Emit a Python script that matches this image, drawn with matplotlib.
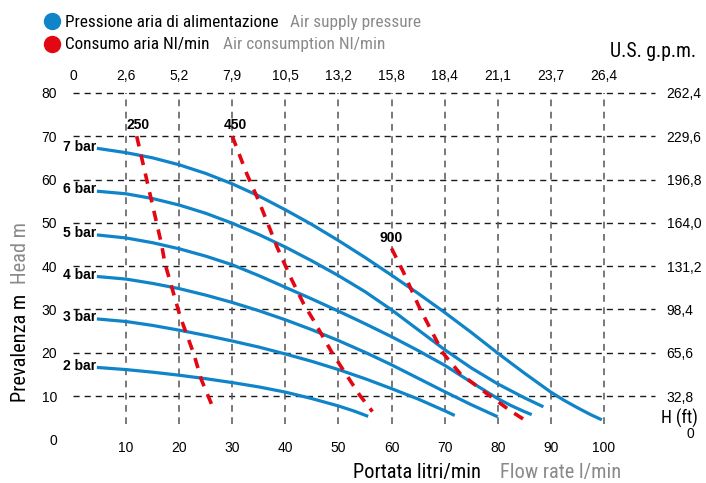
import matplotlib
matplotlib.use('Agg')
import matplotlib.pyplot as plt
from matplotlib.lines import Line2D
from matplotlib import font_manager

# ---------------- data ----------------
flow_ticks = [10, 20, 30, 40, 50, 60, 70, 80, 90, 100]
gpm_ticks = [0, 10, 20, 30, 40, 50, 60, 70, 80, 90, 100]
gpm_labels = ['0', '2,6', '5,2', '7,9', '10,5', '13,2', '15,8', '18,4', '21,1', '23,7', '26,4']
head_ticks = [0, 10, 20, 30, 40, 50, 60, 70, 80]
ft_ticks = [10, 20, 30, 40, 50, 60, 70, 80]
ft_labels = ['32,8', '65,6', '98,4', '131,2', '164,0', '196,8', '229,6', '262,4']

pressure_labels = ['7 bar', '6 bar', '5 bar', '4 bar', '3 bar', '2 bar']
bar7_x = [4.5, 10, 15, 20, 25, 30, 35, 40, 45, 50, 55, 60, 65, 70, 75, 80, 85, 90, 92.5, 95, 97.5, 99.6]
bar7_y = [67.2, 66.2, 65.0, 63.4, 61.4, 59.0, 56.2, 53.0, 49.6, 45.9, 42.0, 37.9, 33.7, 29.3, 24.7, 19.9, 15.3, 10.9, 9.0, 7.3, 5.7, 4.5]
bar6_x = [4.5, 10, 15, 20, 25, 30, 35, 40, 45, 50, 55, 60, 65, 70, 75, 80, 85, 88.6]
bar6_y = [57.3, 56.7, 55.6, 54.1, 52.2, 49.9, 47.3, 44.4, 41.2, 37.8, 34.1, 29.9, 25.3, 20.7, 16.5, 12.8, 9.6, 7.5]
bar5_x = [4.5, 10, 15, 20, 25, 30, 35, 40, 45, 50, 55, 60, 65, 70, 75, 80, 82.5, 85, 86.4]
bar5_y = [47.2, 46.5, 45.4, 44.0, 42.3, 40.3, 37.8, 35.1, 32.4, 29.6, 26.7, 23.7, 20.5, 17.1, 13.2, 9.4, 7.8, 6.4, 5.7]
bar4_x = [4.5, 10, 15, 20, 25, 30, 35, 40, 45, 50, 55, 60, 65, 70, 75, 80]
bar4_y = [37.6, 37.0, 36.0, 34.8, 33.3, 31.6, 29.7, 27.6, 25.3, 22.8, 20.1, 17.2, 14.1, 11.0, 8.0, 5.2]
bar3_x = [4.5, 10, 15, 20, 25, 30, 35, 40, 45, 50, 55, 60, 65, 70, 71.9]
bar3_y = [27.8, 27.2, 26.3, 25.2, 24.0, 22.7, 21.3, 19.7, 18.0, 16.1, 14.0, 11.7, 9.3, 6.6, 5.5]
bar2_x = [4.5, 10, 15, 20, 25, 30, 35, 40, 45, 50, 53, 55.6]
bar2_y = [16.6, 16.1, 15.5, 14.8, 14.0, 13.1, 12.1, 10.9, 9.4, 7.7, 6.5, 5.3]

air_labels = ['250', '450', '900']
air250_x = [12.0, 12.6, 16.7, 17.3, 20.2, 22.7, 24.2, 26.3]
air250_y = [70.0, 66.8, 44.9, 40.7, 28.3, 19.9, 13.7, 7.5]
air450_x = [30.0, 32.7, 34.9, 36.8, 38.4, 40.9, 43.4, 45.3, 48.7, 50.9, 54.0, 56.4]
air450_y = [70.0, 61.4, 55.3, 49.5, 44.5, 37.6, 31.4, 27.5, 20.2, 16.0, 10.2, 6.4]
air900_x = [60.0, 62.2, 65.3, 69.7, 72.9, 77.9, 82.6, 85.3]
air900_y = [44.1, 38.7, 30.3, 19.9, 15.2, 10.6, 6.4, 4.3]
air_label_pos_x = [12.3, 30.5, 59.9]
air_label_pos_y = [72.7, 72.7, 46.4]

# ---------------- style ----------------
BLUE = '#0f84c8'
RED = '#e30613'
GREY = '#8a8a8a'
W, H = 706, 483

names = {f.name for f in font_manager.fontManager.ttflist}
NARROW = 'Roboto'
for cand in ['Liberation Sans Narrow', 'Roboto Condensed', 'Open Sans Condensed',
             'Noto Sans Condensed', 'DejaVu Sans Condensed', 'Roboto']:
    if cand in names:
        NARROW = cand
        break
NUM = 'Liberation Sans'

fig = plt.figure(figsize=(W / 100, H / 100), dpi=100)
renderer = fig.canvas.get_renderer()


def fx(px):
    return px / W


def fy(py):
    return 1 - py / H


def fit(t, target_px, horizontal=True):
    bb = t.get_window_extent(renderer)
    w = bb.width if horizontal else bb.height
    t.set_fontsize(t.get_fontsize() * target_px / w)
    return t.get_fontsize()


ax = fig.add_axes([fx(73), fy(439.3), (657 - 73) / W, (439.3 - 92.9) / H])
ax.set_xlim(0, 110)
ax.set_ylim(0, 80)
for s in ax.spines.values():
    s.set_visible(False)

# grid
ax.hlines(head_ticks[1:], 0, 109.6, colors='#1a1a1a', linewidth=1.0,
          linestyles=(0, (4.4, 3.6)), clip_on=False, zorder=1)
ax.vlines(flow_ticks, 3.5, 80, colors='#555555', linewidth=1.1,
          linestyles=(0, (4.4, 3.6)), clip_on=False, zorder=1)

# ticks
ax.set_xticks(flow_ticks)
ax.set_xticklabels([str(v) for v in flow_ticks], fontsize=10, family=NUM)
ax.set_yticks(head_ticks)
ax.set_yticklabels([str(v) for v in head_ticks], fontsize=10, family=NUM)
ax.tick_params(axis='x', length=0, pad=1)
ax.tick_params(axis='y', length=0, pad=11.5)

axt = ax.twiny()
axt.set_xlim(ax.get_xlim())
axt.set_xticks(gpm_ticks)
axt.set_xticklabels(gpm_labels, fontsize=10, family=NUM)
axt.tick_params(axis='x', length=0, pad=7)
for s in axt.spines.values():
    s.set_visible(False)

axr = ax.twinx()
axr.set_ylim(ax.get_ylim())
axr.set_yticks(ft_ticks)
axr.set_yticklabels(ft_labels, fontsize=10, family=NUM)
axr.tick_params(axis='y', length=0, pad=7)
for s in axr.spines.values():
    s.set_visible(False)

# pressure curves
curves = [(bar7_x, bar7_y), (bar6_x, bar6_y), (bar5_x, bar5_y),
          (bar4_x, bar4_y), (bar3_x, bar3_y), (bar2_x, bar2_y)]
for (xs, ys), lab in zip(curves, pressure_labels):
    ax.plot(xs, ys, color=BLUE, lw=2.3, solid_capstyle='butt',
            solid_joinstyle='round', zorder=3, clip_on=False)
    ax.text(xs[0] - 0.2, ys[0] + 0.4, lab, ha='right', va='center',
            fontsize=10, fontweight='bold', family=NUM, zorder=5)

# air consumption curves
airs = [(air250_x, air250_y), (air450_x, air450_y), (air900_x, air900_y)]
for (xs, ys), lab, lx, ly in zip(airs, air_labels, air_label_pos_x, air_label_pos_y):
    ax.plot(xs, ys, color=RED, lw=2.6, linestyle=(0, (2.9, 2.4)),
            solid_capstyle='butt', dash_capstyle='butt', zorder=4, clip_on=False)
    ax.text(lx, ly, lab, ha='center', va='center', fontsize=10,
            fontweight='bold', family=NUM, zorder=5)

# legend
fig.add_artist(Line2D([fx(52)], [fy(21)], marker='o', ms=11.5, color=BLUE,
                      linestyle='none', transform=fig.transFigure))
fig.add_artist(Line2D([fx(52)], [fy(43.5)], marker='o', ms=11.5, color=RED,
                      linestyle='none', transform=fig.transFigure))
t1 = fig.text(fx(65), fy(27), 'Pressione aria di alimentazione', fontsize=12,
              family=NARROW, color='black', va='baseline')
leg_fs = fit(t1, 213)
fig.text(fx(290), fy(27), 'Air supply pressure', fontsize=leg_fs,
         family=NARROW, color=GREY, va='baseline')
fig.text(fx(65), fy(49.5), 'Consumo aria Nl/min', fontsize=leg_fs,
         family=NARROW, color='black', va='baseline')
fig.text(fx(223), fy(49.5), 'Air consumption Nl/min', fontsize=leg_fs,
         family=NARROW, color=GREY, va='baseline')

tu = fig.text(fx(610), fy(57), 'U.S. g.p.m.', fontsize=12, family=NARROW,
              color='black', va='baseline')
fit(tu, 86)
th = fig.text(fx(679), fy(418), 'H (ft)', fontsize=12, family=NARROW,
              color='black', va='center', ha='center')
fit(th, 37)
fig.text(fx(690), fy(434), '0', fontsize=10, family=NUM,
         color='black', va='center', ha='center')

# axis titles
tx = fig.text(fx(353), fy(478), 'Portata litri/min', fontsize=14, family=NARROW,
              color='black', va='baseline')
ax_fs = fit(tx, 128)
fig.text(fx(500), fy(478), 'Flow rate l/min', fontsize=ax_fs, family=NARROW,
         color=GREY, va='baseline')
ty = fig.text(fx(26), fy(402), 'Prevalenza m', fontsize=ax_fs, family=NARROW,
              color='black', va='baseline', ha='left', rotation=90,
              rotation_mode='anchor')
bb = ty.get_window_extent(renderer)
top_px = H - bb.y1  # pixels from top
fig.text(fx(26), fy(top_px - 10), 'Head m', fontsize=ax_fs, family=NARROW,
         color=GREY, va='baseline', ha='left', rotation=90,
         rotation_mode='anchor')

fig.savefig('out.png', dpi=100)
